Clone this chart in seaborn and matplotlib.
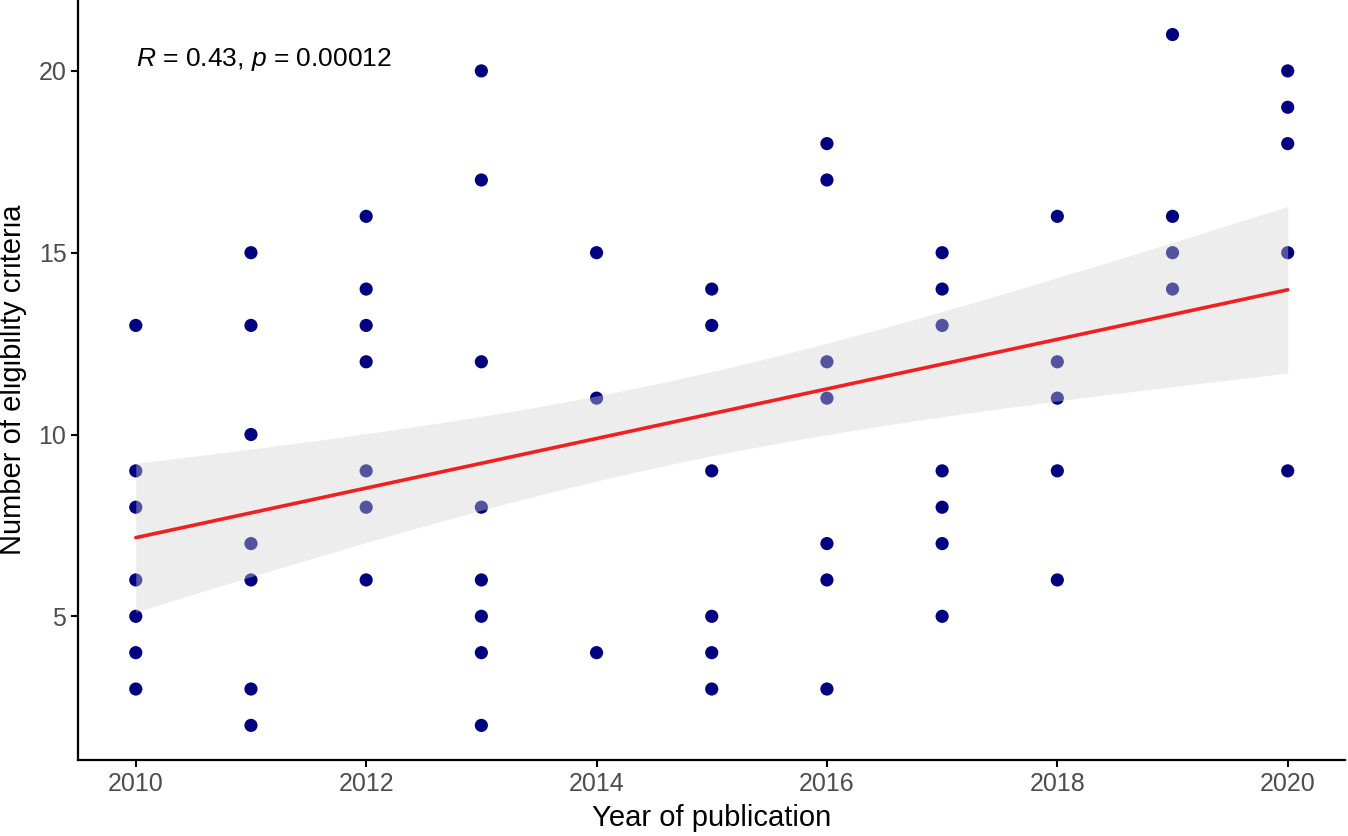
import numpy as np
import pandas as pd
import matplotlib
matplotlib.use("Agg")
import matplotlib.pyplot as plt
import seaborn as sns

# criteria counts per publication year
years = [2010] * 7 + [2011] * 7 + [2012] * 7 + [2013] * 8 + [2014] * 3 \
    + [2015] * 6 + [2016] * 7 + [2017] * 7 + [2018] * 5 + [2019] * 4 + [2020] * 5
criteria = [13, 9, 8, 6, 5, 4, 3,
            15, 13, 10, 7, 6, 3, 2,
            16, 14, 13, 12, 9, 8, 6,
            20, 17, 12, 8, 6, 5, 4, 2,
            15, 11, 4,
            14, 13, 9, 5, 4, 3,
            18, 17, 12, 11, 7, 6, 3,
            15, 14, 13, 9, 8, 7, 5,
            16, 12, 11, 9, 6,
            21, 16, 15, 14,
            20, 19, 18, 15, 9]
x_ticks = [2010, 2012, 2014, 2016, 2018, 2020]
y_ticks = [5, 10, 15, 20]
annot = "$\\it{R}$ = 0.43, $\\it{p}$ = 0.00012"

sns.set_theme(style="white")
plt.rcParams["font.family"] = ["Liberation Sans", "DejaVu Sans"]
plt.rcParams["mathtext.fontset"] = "custom"
plt.rcParams["mathtext.it"] = "Liberation Sans:italic"
plt.rcParams["mathtext.rm"] = "Liberation Sans"

df = pd.DataFrame({"year": years, "n": criteria})

fig = plt.figure(figsize=(13.48, 8.36), dpi=100)
ax = fig.add_axes([0.058, 0.091, 0.94, 0.909])

sns.scatterplot(data=df, x="year", y="n", color="#000080", s=90,
                edgecolor="none", ax=ax, zorder=2)

# linear fit with analytic 95% band (like geom_smooth(method="lm"))
x = df["year"].to_numpy(float)
y = df["n"].to_numpy(float)
b1, b0 = np.polyfit(x, y, 1)
xs = np.linspace(x.min(), x.max(), 100)
resid = y - (b0 + b1 * x)
n = len(x)
s = np.sqrt((resid ** 2).sum() / (n - 2))
se = s * np.sqrt(1 / n + (xs - x.mean()) ** 2 / ((x - x.mean()) ** 2).sum())
tcrit = 1.998
fit = b0 + b1 * xs
ax.fill_between(xs, fit - tcrit * se, fit + tcrit * se, color="#d2d2d2",
                alpha=0.4, linewidth=0, zorder=3)
sns.lineplot(x=xs, y=fit, color="#f02020", linewidth=2.6, ax=ax, zorder=4)

ax.text(2010, 20.3, annot, fontsize=19, va="center", ha="left", color="black")

ax.set_xlim(2009.5, 2020.5)
ax.set_ylim(1.05, 21.95)
ax.set_xticks(x_ticks)
ax.set_yticks(y_ticks)
ax.tick_params(axis="both", labelsize=18, colors="#4d4d4d", length=5,
               width=1.5, direction="out", bottom=True, left=True)
ax.tick_params(axis="both", color="black")
ax.set_xlabel("Year of publication", fontsize=21, color="black", labelpad=6)
ax.set_ylabel("Number of eligibility criteria", fontsize=21, color="black",
              labelpad=8)
for side in ["top", "right"]:
    ax.spines[side].set_visible(False)
for side in ["left", "bottom"]:
    ax.spines[side].set_color("black")
    ax.spines[side].set_linewidth(1.6)

fig.savefig("out.png", dpi=100)
